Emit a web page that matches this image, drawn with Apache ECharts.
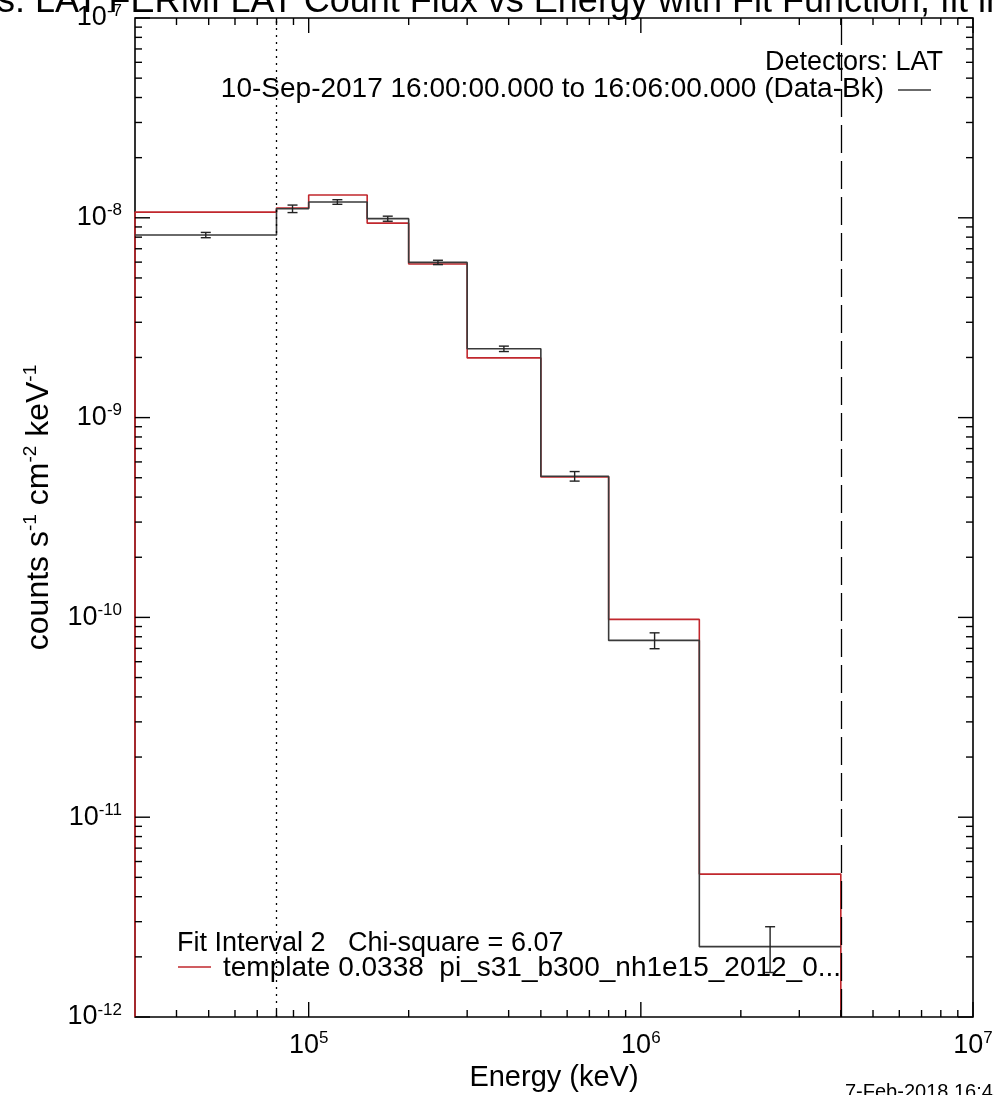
<!DOCTYPE html>
<html>
<head>
<meta charset="utf-8">
<script src="https://cdn.jsdelivr.net/npm/echarts@6/dist/echarts.min.js"></script>
<style>
html, body { margin: 0; padding: 0; background: #fff; }
#chart { width: 994px; height: 1095px; }
</style>
</head>
<body>
<div id="chart"></div>
<script>
// Energy bin edges (keV) and bin centres used for the error bars
const binEdges = [3e4, 8e4, 1e5, 1.5e5, 2e5, 3e5, 5e5, 8e5, 1.5e6, 4e6];
const binCenters = [4.9e4, 8.94e4, 1.22e5, 1.73e5, 2.45e5, 3.87e5, 6.32e5, 1.10e6, 2.45e6];

// Background-subtracted count flux (counts s^-1 cm^-2 keV^-1) and 1-sigma errors
const dataFlux = [8.2e-9, 1.11e-8, 1.20e-8, 9.9e-9, 5.98e-9, 2.21e-9, 5.09e-10, 7.67e-11, 2.25e-12];
const dataErr  = [2.5e-10, 4.8e-10, 3.2e-10, 2.9e-10, 1.5e-10, 6.9e-11, 2.8e-11, 7.0e-12, 5.8e-13];

// Fitted template model, per bin
const modelFlux = [1.067e-8, 1.12e-8, 1.30e-8, 9.4e-9, 5.87e-9, 1.99e-9, 5.05e-10, 9.77e-11, 5.19e-12];

// Axis ranges and decade ticks
const xRange = [3e4, 1e7];
const yRange = [1e-12, 1e-7];
const xMajorTicks = [1e5, 1e6, 1e7];
const yMajorTicks = [1e-12, 1e-11, 1e-10, 1e-9, 1e-8, 1e-7];

// Fit-interval boundaries (keV)
const fitStart = 8e4;
const fitEnd = 4e6;

const FONT = 'Liberation Sans, Arial, Helvetica, sans-serif';
const INK = '#222';
const DATA_COLOR = '#3a3a3a';
const MODEL_COLOR = '#c1272d';

// Histogram outline from edges + values; optionally dropped to the floor at both ends
function stepPoints(edges, vals, floor) {
  const pts = [];
  if (floor != null) pts.push([edges[0], floor]);
  vals.forEach(function (v, i) {
    pts.push([edges[i], v]);
    pts.push([edges[i + 1], v]);
  });
  if (floor != null) pts.push([edges[edges.length - 1], floor]);
  return pts;
}

// Minor ticks at 2..9 x 10^n inside a range
function minorTicks(lo, hi) {
  const out = [];
  for (let e = Math.floor(Math.log10(lo)); e < Math.ceil(Math.log10(hi)); e++) {
    for (let k = 2; k <= 9; k++) {
      const v = k * Math.pow(10, e);
      if (v > lo && v < hi) out.push(v);
    }
  }
  return out;
}

const xTickData = xMajorTicks.map(v => [v, 1e-10, 1]).concat(minorTicks(xRange[0], xRange[1]).map(v => [v, 1e-10, 0]));
const yTickData = yMajorTicks.map(v => [1e5, v, 1]).concat(minorTicks(yRange[0], yRange[1]).map(v => [1e5, v, 0]));

const MAJOR_LEN = 15, MINOR_LEN = 7;
const tickStyle = { stroke: '#000', lineWidth: 1.4 };

function renderXTicks(params, api) {
  const cs = params.coordSys;
  const x = api.coord([api.value(0), api.value(1)])[0];
  const len = api.value(2) ? MAJOR_LEN : MINOR_LEN;
  const bottom = cs.y + cs.height, top = cs.y;
  return {
    type: 'group',
    children: [
      { type: 'line', shape: { x1: x, y1: bottom, x2: x, y2: bottom - len }, style: tickStyle },
      { type: 'line', shape: { x1: x, y1: top, x2: x, y2: top + len }, style: tickStyle }
    ]
  };
}

function renderYTicks(params, api) {
  const cs = params.coordSys;
  const y = api.coord([api.value(0), api.value(1)])[1];
  const len = api.value(2) ? MAJOR_LEN : MINOR_LEN;
  const left = cs.x, right = cs.x + cs.width;
  return {
    type: 'group',
    children: [
      { type: 'line', shape: { x1: left, y1: y, x2: left + len, y2: y }, style: tickStyle },
      { type: 'line', shape: { x1: right, y1: y, x2: right - len, y2: y }, style: tickStyle }
    ]
  };
}

function renderErrorBar(params, api) {
  const lo = api.coord([api.value(0), api.value(1)]);
  const hi = api.coord([api.value(0), api.value(2)]);
  const cap = 5;
  const st = { stroke: INK, lineWidth: 1.4 };
  return {
    type: 'group',
    children: [
      { type: 'line', shape: { x1: lo[0], y1: lo[1], x2: hi[0], y2: hi[1] }, style: st },
      { type: 'line', shape: { x1: hi[0] - cap, y1: hi[1], x2: hi[0] + cap, y2: hi[1] }, style: st },
      { type: 'line', shape: { x1: lo[0] - cap, y1: lo[1], x2: lo[0] + cap, y2: lo[1] }, style: st }
    ]
  };
}

const errData = binCenters.map((c, i) => [c, dataFlux[i] - dataErr[i], dataFlux[i] + dataErr[i]]);

const powRich = {
  b: { fontFamily: FONT, fontSize: 27, color: '#000', lineHeight: 31 },
  s: { fontFamily: FONT, fontSize: 17, color: '#000', lineHeight: 17, verticalAlign: 'top' }
};
const powLabel = v => '{b|10}{s|' + Math.round(Math.log10(v)) + '}';

const chart = echarts.init(document.getElementById('chart'), null, { renderer: 'canvas' });

chart.setOption({
  animation: false,
  backgroundColor: '#fff',
  grid: {
    left: 135, right: 21, top: 18, bottom: 78,
    outerBoundsMode: 'none', containLabel: false,
    show: true, borderColor: '#000', borderWidth: 1.6, backgroundColor: 'transparent'
  },
  xAxis: {
    type: 'log', logBase: 10, min: xRange[0], max: xRange[1],
    axisLine: { show: false }, axisTick: { show: false }, splitLine: { show: false },
    axisLabel: { formatter: powLabel, rich: powRich, margin: 13, showMinLabel: false, showMaxLabel: true },
    name: 'Energy (keV)', nameLocation: 'middle', nameGap: 43,
    nameTextStyle: { fontFamily: FONT, fontSize: 29, color: '#000' }
  },
  yAxis: {
    type: 'log', logBase: 10, min: yRange[0], max: yRange[1],
    axisLine: { show: false }, axisTick: { show: false }, splitLine: { show: false },
    axisLabel: { formatter: powLabel, rich: powRich, margin: 13 },
    name: '{n|counts s}{s|-1}{n| cm}{s|-2}{n| keV}{s|-1}',
    nameLocation: 'middle', nameGap: 78, nameRotate: 90,
    nameTextStyle: {
      padding: [0, 0, 0, 20],
      rich: {
        n: { fontFamily: FONT, fontSize: 32, color: '#000', lineHeight: 36 },
        s: { fontFamily: FONT, fontSize: 19, color: '#000', lineHeight: 19, verticalAlign: 'top' }
      }
    }
  },
  series: [
    {
      name: 'model', type: 'line', data: stepPoints(binEdges, modelFlux, yRange[0]),
      showSymbol: false, symbol: 'none', lineStyle: { color: MODEL_COLOR, width: 1.6 }, z: 3,
      silent: true
    },
    {
      name: 'data', type: 'line', data: stepPoints(binEdges, dataFlux, null),
      showSymbol: false, symbol: 'none', lineStyle: { color: DATA_COLOR, width: 1.6 }, z: 4,
      silent: true,
      markLine: {
        silent: true, symbol: 'none', label: { show: false },
        data: [
          { xAxis: fitStart, lineStyle: { color: '#000', width: 1.3, type: [2, 5] } },
          { xAxis: fitEnd, lineStyle: { color: '#000', width: 1.3, type: [28, 8] } }
        ]
      }
    },
    {
      name: 'errors', type: 'custom', data: errData, renderItem: renderErrorBar, z: 5, silent: true
    },
    {
      name: 'xticks', type: 'custom', data: xTickData, renderItem: renderXTicks, z: 6, silent: true, clip: false
    },
    {
      name: 'yticks', type: 'custom', data: yTickData, renderItem: renderYTicks, z: 6, silent: true, clip: false
    }
  ],
  graphic: [
    {
      type: 'text', x: -139, y: 20,
      style: { text: 'Detectors: LAT FERMI LAT Count Flux vs Energy with Fit Function, fit interval 2',
               font: '36px ' + FONT, fill: '#000', textAlign: 'left', textVerticalAlign: 'bottom' }
    },
    {
      type: 'text', x: 943, y: 63,
      style: { text: 'Detectors: LAT', font: '27px ' + FONT, fill: '#000', textAlign: 'right', textVerticalAlign: 'middle' }
    },
    {
      type: 'text', x: 884, y: 89,
      style: { text: '10-Sep-2017 16:00:00.000 to 16:06:00.000 (Data-Bk)', font: '28px ' + FONT, fill: '#000',
               textAlign: 'right', textVerticalAlign: 'middle' }
    },
    { type: 'line', shape: { x1: 898, y1: 90, x2: 931, y2: 90 }, style: { stroke: DATA_COLOR, lineWidth: 1.4 } },
    {
      type: 'text', x: 177, y: 944,
      style: { text: 'Fit Interval 2   Chi-square = 6.07', font: '27px ' + FONT, fill: '#000',
               textAlign: 'left', textVerticalAlign: 'middle' }
    },
    { type: 'line', shape: { x1: 178, y1: 967, x2: 211, y2: 967 }, style: { stroke: MODEL_COLOR, lineWidth: 1.4 } },
    {
      type: 'text', x: 223, y: 968,
      style: { text: 'template 0.0338  pi_s31_b300_nh1e15_2012_0...', font: '28px ' + FONT, fill: '#000',
               textAlign: 'left', textVerticalAlign: 'middle' }
    },
    {
      type: 'text', x: 845, y: 1082,
      style: { text: '7-Feb-2018 16:45', font: '20px ' + FONT, fill: '#000', textAlign: 'left', textVerticalAlign: 'top' }
    }
  ]
});
</script>
</body>
</html>
